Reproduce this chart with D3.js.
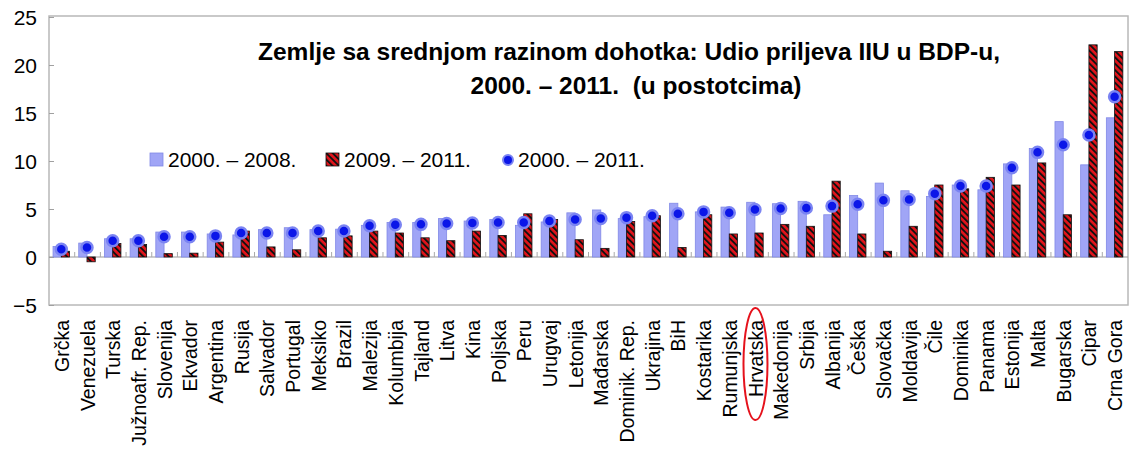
<!DOCTYPE html>
<html>
<head>
<meta charset="utf-8">
<script src="https://cdn.jsdelivr.net/npm/d3@7"></script>
<style>
  body { margin: 0; background: #fff; }
  text { font-family: "Liberation Sans", Arial, sans-serif; fill: #000; }
</style>
</head>
<body>
<script>
var countries = ["Grčka", "Venezuela", "Turska", "Južnoafr. Rep.", "Slovenija", "Ekvador", "Argentina", "Rusija",
  "Salvador", "Portugal", "Meksiko", "Brazil", "Malezija", "Kolumbija", "Tajland", "Litva", "Kina", "Poljska",
  "Peru", "Urugvaj", "Letonija", "Mađarska", "Dominik. Rep.", "Ukrajina", "BiH", "Kostarika", "Rumunjska",
  "Hrvatska", "Makedonija", "Srbija", "Albanija", "Češka", "Slovačka", "Moldavija", "Čile", "Dominika",
  "Panama", "Estonija", "Malta", "Bugarska", "Cipar", "Crna Gora"];

var p0008 = [1.1, 1.45, 1.9, 1.9, 2.6, 2.6, 2.4, 2.3, 2.85, 3.05, 2.85, 2.9, 3.3, 3.6, 3.6, 4.0, 3.75, 3.9, 3.3, 3.65,
  4.6, 4.9, 4.0, 4.2, 5.6, 4.7, 5.2, 5.7, 5.55, 5.8, 4.4, 6.4, 7.7, 6.9, 6.3, 7.5, 7.0, 9.7, 11.3, 14.1, 9.6, 14.5];
var p0911 = [0.6, -0.5, 1.4, 1.3, 0.35, 0.4, 1.55, 2.7, 1.05, 0.75, 2.0, 2.2, 2.7, 2.5, 2.0, 1.7, 2.7, 2.25, 4.5, 3.9,
  1.8, 0.9, 3.7, 4.3, 1.0, 4.4, 2.4, 2.5, 3.4, 3.2, 7.9, 2.4, 0.6, 3.2, 7.5, 7.1, 8.3, 7.5, 9.8, 4.4, 22.1, 21.4];
var p0011 = [0.8, 1.0, 1.7, 1.7, 2.1, 2.1, 2.2, 2.5, 2.5, 2.5, 2.7, 2.7, 3.25, 3.35, 3.4, 3.5, 3.55, 3.6, 3.6, 3.75,
  3.9, 4.0, 4.1, 4.3, 4.5, 4.7, 4.6, 4.95, 5.05, 5.1, 5.3, 5.5, 5.9, 6.0, 6.6, 7.4, 7.4, 9.3, 10.9, 11.7, 12.7, 16.7];

var yTicks = [-5, 0, 5, 10, 15, 20, 25];
var seriesNames = ["2000. – 2008.", "2009. – 2011.", "2000. – 2011."];
var titleLines = ["Zemlje sa srednjom razinom dohotka: Udio priljeva IIU u BDP-u,", "2000. – 2011.  (u postotcima)"];
var marked = "Hrvatska";

var w = 1132, h = 461;
var pL = 49, pR = 1128, pT = 17, pB = 305;

var svg = d3.select("body").append("svg").attr("width", w).attr("height", h);
var defs = svg.append("defs");
var pat = defs.append("pattern")
  .attr("id", "hatch")
  .attr("patternUnits", "userSpaceOnUse")
  .attr("width", 4.5).attr("height", 4.5)
  .attr("patternTransform", "rotate(-45)");
pat.append("rect").attr("width", 4.5).attr("height", 4.5).attr("fill", "#e3141b");
pat.append("rect").attr("width", 1.9).attr("height", 4.5).attr("fill", "#111");

var x = d3.scaleBand().domain(countries).range([pL, pR]);
var xs = d3.scaleBand().domain(["a", "b"]).range([0, 16.5]);
var y = d3.scaleLinear().domain([-5, 25]).range([pB, pT]);
var off = x.bandwidth() / 2 - 8.8;

// frame
svg.append("rect")
  .attr("x", pL).attr("y", pT - 1)
  .attr("width", pR - pL).attr("height", pB - pT + 1)
  .attr("fill", "none").attr("stroke", "#b8b8b8").attr("stroke-width", 1.5);

// y axis
var yAxis = d3.axisLeft(y).tickValues(yTicks).tickSizeInner(-5).tickSizeOuter(0).tickPadding(12);
var gy = svg.append("g").attr("transform", "translate(" + pL + ",0)").call(yAxis);
gy.select(".domain").remove();
gy.selectAll(".tick line").attr("stroke", "#a0a0a0");
gy.selectAll("text").style("font-size", "21px").attr("dy", "0.36em");

// title
svg.selectAll(".title").data(titleLines).enter().append("text")
  .attr("class", "title")
  .attr("x", function(d, i) { return i === 0 ? 629 : 636; })
  .attr("y", function(d, i) { return 60 + i * 34; })
  .attr("text-anchor", "middle")
  .style("font-size", "24.5px").style("font-weight", "bold").style("white-space", "pre")
  .text(function(d) { return d; });

var rows = countries.map(function(c, i) {
  return { c: c, a: p0008[i], b: p0911[i], t: p0011[i] };
});

// zero line and category ticks
svg.append("line")
  .attr("x1", pL).attr("x2", pR).attr("y1", y(0)).attr("y2", y(0))
  .attr("stroke", "#9a9a9a").attr("stroke-width", 1.2);
svg.selectAll(".ctick").data(countries.slice(1)).enter().append("line")
  .attr("x1", function(d) { return x(d); }).attr("x2", function(d) { return x(d); })
  .attr("y1", y(0) - 5).attr("y2", y(0))
  .attr("stroke", "#aaa").attr("stroke-width", 1);

// bars
svg.selectAll(".barA").data(rows).enter().append("rect")
  .attr("x", function(d) { return x(d.c) + off + xs("a"); })
  .attr("y", function(d) { return y(Math.max(0, d.a)); })
  .attr("width", xs.bandwidth())
  .attr("height", function(d) { return Math.abs(y(d.a) - y(0)); })
  .attr("fill", "#a0a5f6").attr("stroke", "#8189e6").attr("stroke-width", 0.8);

svg.selectAll(".barB").data(rows).enter().append("rect")
  .attr("x", function(d) { return x(d.c) + off + xs("b"); })
  .attr("y", function(d) { return y(Math.max(0, d.b)); })
  .attr("width", xs.bandwidth())
  .attr("height", function(d) { return Math.abs(y(d.b) - y(0)); })
  .attr("fill", "url(#hatch)").attr("stroke", "#111").attr("stroke-width", 0.8);

// dots
svg.selectAll(".dot").data(rows).enter().append("circle")
  .attr("cx", function(d) { return x(d.c) + off + xs.bandwidth(); })
  .attr("cy", function(d) { return y(d.t); })
  .attr("r", 5.5)
  .attr("fill", "#0b16e8").attr("stroke", "#7b84f2").attr("stroke-width", 2.5);

// category labels
var xAxis = d3.axisBottom(x).tickSize(0).tickSizeOuter(0);
var gx = svg.append("g").attr("transform", "translate(0," + pB + ")").call(xAxis);
gx.select(".domain").remove();
gx.selectAll("text")
  .style("font-size", "19.5px")
  .attr("transform", "rotate(-90)")
  .attr("text-anchor", "end")
  .attr("x", -15).attr("y", 0).attr("dy", "0.36em");

// highlight ellipse
svg.append("ellipse")
  .attr("cx", x(marked) + x.bandwidth() / 2)
  .attr("cy", 364).attr("rx", 12).attr("ry", 56)
  .attr("fill", "none").attr("stroke", "#e5121c").attr("stroke-width", 2);

// legend
var lg = svg.append("g").style("font-size", "21px");
var lx = [150, 326, 508];
lg.append("rect").attr("x", lx[0]).attr("y", 153).attr("width", 13).attr("height", 13)
  .attr("fill", "#a0a5f6").attr("stroke", "#8189e6").attr("stroke-width", 0.8);
lg.append("rect").attr("x", lx[1]).attr("y", 153).attr("width", 13).attr("height", 13)
  .attr("fill", "url(#hatch)").attr("stroke", "#111").attr("stroke-width", 0.8);
lg.append("circle").attr("cx", lx[2]).attr("cy", 160).attr("r", 5)
  .attr("fill", "#0b16e8").attr("stroke", "#7b84f2").attr("stroke-width", 2);
lg.selectAll("text").data(seriesNames).enter().append("text")
  .attr("x", function(d, i) { return i < 2 ? lx[i] + 18 : lx[i] + 10; })
  .attr("y", 167)
  .text(function(d) { return d; });
</script>
</body>
</html>
